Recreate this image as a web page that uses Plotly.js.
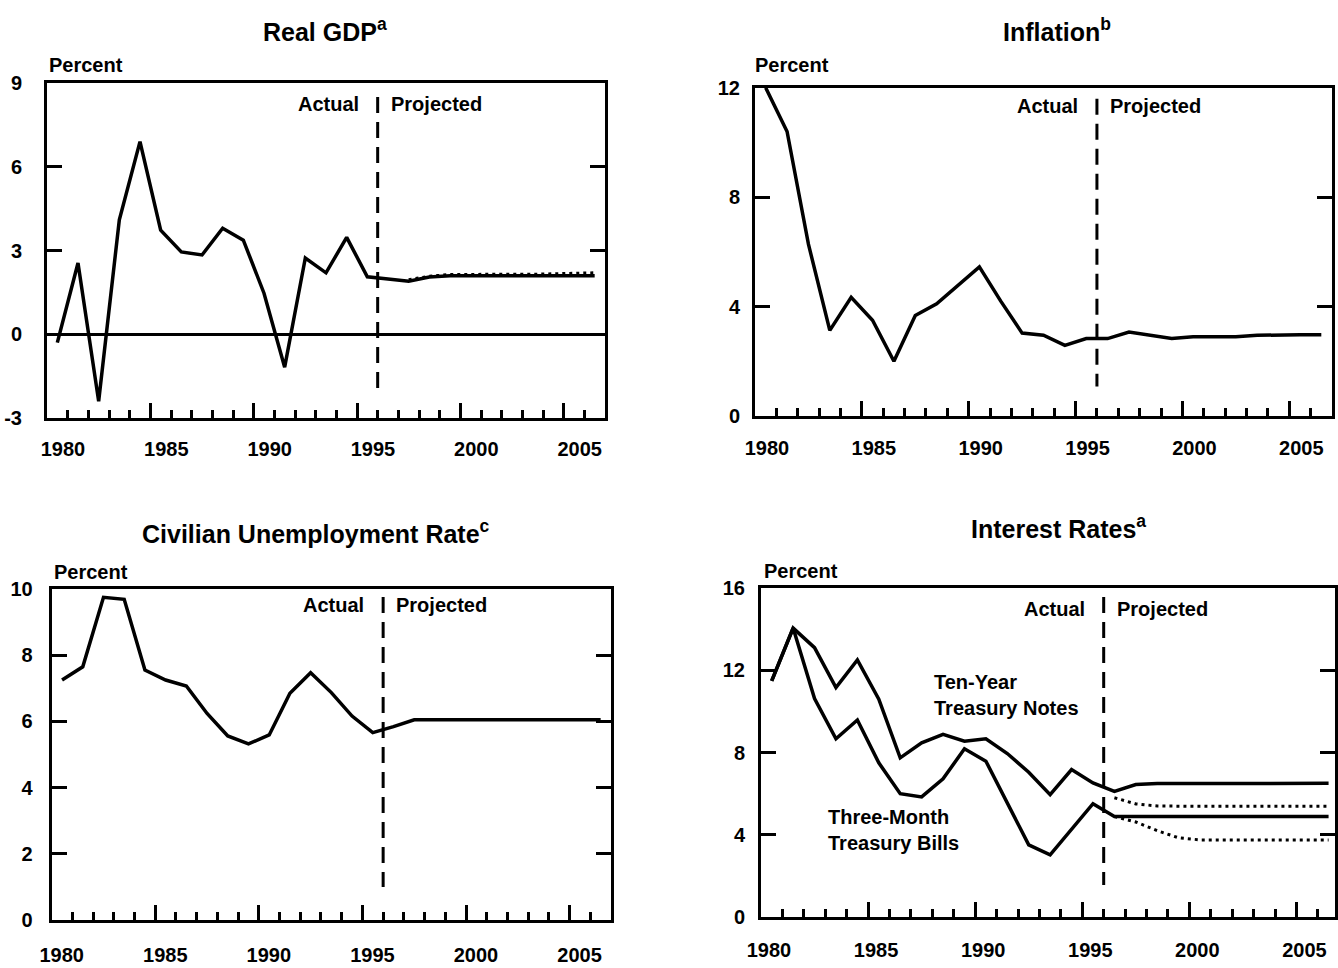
<!DOCTYPE html>
<html><head><meta charset="utf-8">
<script src="https://cdn.plot.ly/plotly-3.0.1.min.js"></script>
<style>html,body{margin:0;padding:0;background:#fff}#chart{width:1338px;height:968px}</style>
</head><body><div id="chart"></div>
<script>
// ---- data ----
const years = [1980,1981,1982,1983,1984,1985,1986,1987,1988,1989,1990,1991,1992,1993,1994,1995,1996,1997,1998,1999,2000,2001,2002,2003,2004,2005,2006];
const realGDP = [-0.3,2.55,-2.4,4.1,6.9,3.73,2.95,2.84,3.8,3.37,1.47,-1.18,2.73,2.2,3.47,2.06,1.98,1.9,2.05,2.1,2.1,2.1,2.1,2.1,2.1,2.1,2.1];
const gdpAltYears = [1997,1998,1999,2000,2001,2002,2003,2004,2005,2006];
const realGDPAlt = [1.95,2.08,2.14,2.15,2.15,2.15,2.15,2.17,2.17,2.2];
const inflation = [12,10.4,6.28,3.13,4.34,3.5,2.0,3.67,4.1,4.76,5.45,4.2,3.03,2.95,2.58,2.83,2.83,3.07,2.95,2.83,2.9,2.9,2.9,2.95,2.97,2.97,2.97];
const unemployment = [7.25,7.65,9.75,9.69,7.55,7.25,7.07,6.24,5.56,5.32,5.59,6.85,7.47,6.87,6.16,5.66,5.84,6.05,6.05,6.05,6.05,6.05,6.05,6.05,6.05,6.05,6.05];
const tenYearNotes = [11.48,14.05,13.1,11.16,12.5,10.59,7.74,8.47,8.88,8.55,8.67,7.95,7.04,5.95,7.17,6.52,6.11,6.44,6.49,6.49,6.49,6.5,6.5,6.5,6.5,6.5,6.5];
const threeMonthBills = [11.48,14.05,10.62,8.67,9.58,7.5,6.0,5.84,6.72,8.18,7.58,5.54,3.51,3.02,4.24,5.51,4.89,4.89,4.89,4.89,4.89,4.89,4.89,4.89,4.89,4.89,4.89];
const altYears = [1996,1997,1998,1999,2000,2001,2002,2003,2004,2005,2006];
const tenYearAlt = [5.8,5.5,5.4,5.38,5.38,5.38,5.38,5.38,5.38,5.38,5.38];
const threeMonthAlt = [4.89,4.62,4.2,3.85,3.75,3.75,3.75,3.75,3.75,3.75,3.75];
const xTickYears = [1980,1985,1990,1995,2000,2005];
const xTickLabels = ['1980','1985','1990','1995','2000','2005'];
const lastActualYear = 1995;
const titles = ['Real GDP<sup>a</sup>','Inflation<sup>b</sup>','Civilian Unemployment Rate<sup>c</sup>','Interest Rates<sup>a</sup>'];

// ---- layout helpers ----
const W = 1338, H = 968;
const FONT = 'Liberation Sans, Arial, Helvetica, sans-serif';
const px = x => x / W, py = y => 1 - y / H;

const panels = [
  {dx:[47,605], dy:[83,418], yr:[-3,9], ytv:[-3,0,3,6,9], xr:[1979.5,2006.5], shift:16, ys:18, xs:11, title:[325,30], pct:[47,65], actY:104, dash:[8.5,-1.93], zero:true},
  {dx:[755,1332], dy:[87.7,416], yr:[0,12], ytv:[0,4,8,12], xr:[1979.5,2006.5], shift:12, ys:8, xs:12, title:[1057,30], pct:[753,65], actY:106, dash:[11.6,1.08]},
  {dx:[51.7,611], dy:[589,920], yr:[0,10], ytv:[0,2,4,6,8,10], xr:[1979.5,2006.5], shift:10, ys:12, xs:15, title:[316,532], pct:[52,572], actY:605, dash:[9.76,1.0]},
  {dx:[761,1335], dy:[588,917], yr:[0,16], ytv:[0,4,8,12,16], xr:[1979.5,2006.3], shift:8, ys:9, xs:13, title:[1058,527], pct:[762,571], actY:609, dash:[15.56,1.56]}
];

const layout = {
  width: W, height: H, margin:{l:0,r:0,t:0,b:0},
  paper_bgcolor:'#fff', plot_bgcolor:'#fff', showlegend:false,
  font:{family:FONT, color:'#000', size:20, weight:'bold'},
  annotations:[], shapes:[]
};

panels.forEach((p,i) => {
  const k = i === 0 ? '' : String(i+1);
  layout['xaxis'+k] = {
    domain:[px(p.dx[0]), px(p.dx[1])], anchor:'y'+k, range:p.xr, fixedrange:true,
    showline:true, linewidth:3, linecolor:'#000', mirror:true, showgrid:false, zeroline:false,
    tickmode:'array', tickvals:xTickYears.map(y => y - 0.5), ticktext:xTickLabels,
    ticks:'inside', ticklen:15, tickwidth:3, tickcolor:'#000',
    ticklabelshift:p.shift, ticklabelstandoff:p.xs,
    tickfont:{family:FONT, size:20, color:'#000', weight:'bold'},
    minor:{tick0:1979.5, dtick:1, ticks:'inside', ticklen:8, tickwidth:3, tickcolor:'#000', showgrid:false}
  };
  layout['yaxis'+k] = {
    domain:[py(p.dy[1]), py(p.dy[0])], anchor:'x'+k, range:p.yr, fixedrange:true,
    showline:true, linewidth:3, linecolor:'#000', mirror:'ticks', showgrid:false,
    zeroline:!!p.zero, zerolinewidth:3, zerolinecolor:'#000',
    tickmode:'array', tickvals:p.ytv, ticktext:p.ytv.map(String),
    ticks:'inside', ticklen:15, tickwidth:3, tickcolor:'#000', ticklabelstandoff:p.ys,
    tickfont:{family:FONT, size:20, color:'#000', weight:'bold'}
  };
  layout.annotations.push({xref:'paper', yref:'paper', x:px(p.title[0]), y:py(p.title[1]), xanchor:'center', yanchor:'middle',
    text:titles[i], showarrow:false, font:{family:FONT, size:25, color:'#000', weight:'bold'}});
  layout.annotations.push({xref:'paper', yref:'paper', x:px(p.pct[0]), y:py(p.pct[1]), xanchor:'left', yanchor:'middle',
    text:'Percent', showarrow:false, font:{family:FONT, size:20, color:'#000', weight:'bold'}});
  layout.annotations.push({xref:'x'+k, yref:'paper', x:lastActualYear + 0.5, y:py(p.actY), xanchor:'right', yanchor:'middle', xshift:-17,
    text:'Actual', showarrow:false, font:{family:FONT, size:20, color:'#000', weight:'bold'}});
  layout.annotations.push({xref:'x'+k, yref:'paper', x:lastActualYear + 0.5, y:py(p.actY), xanchor:'left', yanchor:'middle', xshift:11,
    text:'Projected', showarrow:false, font:{family:FONT, size:20, color:'#000', weight:'bold'}});
  layout.shapes.push({type:'line', xref:'x'+k, yref:'y'+k, x0:lastActualYear + 0.5, x1:lastActualYear + 0.5, y0:p.dash[0], y1:p.dash[1],
    line:{color:'#000', width:3, dash:'16px,9px'}});
});

layout.annotations.push({xref:'x4', yref:'y4', x:1987.5, y:10.8, xanchor:'left', yanchor:'middle', align:'left',
  text:'Ten-Year<br>Treasury Notes', showarrow:false, font:{family:FONT, size:20, color:'#000', weight:'bold'}});
layout.annotations.push({xref:'x4', yref:'y4', x:1982.55, y:4.23, xanchor:'left', yanchor:'middle', align:'left',
  text:'Three-Month<br>Treasury Bills', showarrow:false, font:{family:FONT, size:20, color:'#000', weight:'bold'}});

const solid = {color:'#000', width:3.5};
const dotted = {color:'#000', width:3, dash:'3px,4px'};
const data = [
  {x:gdpAltYears, y:realGDPAlt, xaxis:'x', yaxis:'y', mode:'lines', line:dotted, hoverinfo:'skip'},
  {x:years, y:realGDP, xaxis:'x', yaxis:'y', mode:'lines', line:solid, hoverinfo:'skip'},
  {x:years, y:inflation, xaxis:'x2', yaxis:'y2', mode:'lines', line:solid, hoverinfo:'skip'},
  {x:years, y:unemployment, xaxis:'x3', yaxis:'y3', mode:'lines', line:solid, hoverinfo:'skip'},
  {x:altYears, y:tenYearAlt, xaxis:'x4', yaxis:'y4', mode:'lines', line:dotted, hoverinfo:'skip'},
  {x:altYears, y:threeMonthAlt, xaxis:'x4', yaxis:'y4', mode:'lines', line:dotted, hoverinfo:'skip'},
  {x:years, y:tenYearNotes, xaxis:'x4', yaxis:'y4', mode:'lines', line:solid, hoverinfo:'skip'},
  {x:years, y:threeMonthBills, xaxis:'x4', yaxis:'y4', mode:'lines', line:solid, hoverinfo:'skip'}
];

Plotly.newPlot('chart', data, layout, {displayModeBar:false, staticPlot:true});
</script>
</body></html>
